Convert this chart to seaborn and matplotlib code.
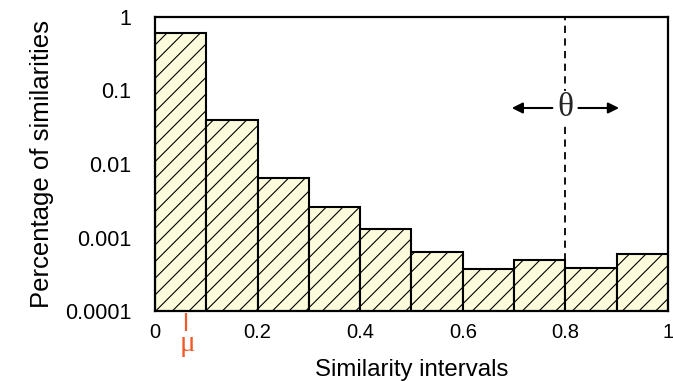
import numpy as np
import matplotlib
matplotlib.use("Agg")
import matplotlib.pyplot as plt
import matplotlib.transforms as mtransforms
import seaborn as sns

# data
bin_edges = [0.0, 0.1, 0.2, 0.3, 0.4, 0.5, 0.6, 0.7, 0.8, 0.9, 1.0]
bin_values = [0.605, 0.0397, 0.00645, 0.00262, 0.00129, 0.000641, 0.000377, 0.000494, 0.000385, 0.000602]
x_ticks = [0, 0.2, 0.4, 0.6, 0.8, 1.0]
x_tick_labels = ["0", "0.2", "0.4", "0.6", "0.8", "1"]
y_ticks = [1e-4, 1e-3, 1e-2, 1e-1, 1]
y_tick_labels = ["0.0001", "0.001", "0.01", "0.1", "1"]
mu_value = 0.06
theta_value = 0.8

sns.set_theme(style="white")
plt.rcParams['font.family'] = ['Liberation Sans', 'DejaVu Sans']
plt.rcParams['hatch.linewidth'] = 0.8

centers = [(bin_edges[i] + bin_edges[i + 1]) / 2 for i in range(len(bin_values))]

fig = plt.figure(figsize=(6.73, 3.81), dpi=100)
ax = fig.add_axes([155 / 673, 1 - 311 / 381, 513 / 673, 294 / 381])

sns.histplot(x=centers, weights=bin_values, bins=bin_edges, ax=ax,
             color="#FCFCDC", edgecolor="black", linewidth=1.5, hatch="//",
             alpha=1, stat="count")
ax.set_yscale("log")
ax.set_ylim(1e-4, 1)
ax.set_xlim(0, 1)

ax.set_xticks(x_ticks)
ax.set_xticklabels(x_tick_labels)
ax.set_yticks(y_ticks)
ax.set_yticklabels(y_tick_labels)
ax.minorticks_off()
ax.tick_params(axis="both", length=0, colors="black")
ax.tick_params(axis="x", pad=9, labelsize=14.5)
ax.tick_params(axis="y", pad=17, labelsize=15.5)

for s in ax.spines.values():
    s.set_visible(True)
    s.set_color("black")
    s.set_linewidth(1.6)

ax.set_xlabel("Similarity intervals", fontsize=17.3, color="black", labelpad=12)
ax.set_ylabel("Percentage of similarities", fontsize=18.5, color="black", labelpad=8)

# theta dashed line and arrows
ax.axvline(theta_value, color="black", linestyle=(0, (4, 3)), linewidth=1.3, zorder=5)
ytheta = 10 ** (-(108 - 17) / 73.5)
ax.text(theta_value, ytheta, "θ", ha="center", va="center", fontsize=24,
        family=["Liberation Serif", "DejaVu Serif"], zorder=7,
        bbox=dict(facecolor="white", edgecolor="none", pad=1))
ax.annotate("", xy=(0.69, ytheta), xytext=(0.78, ytheta),
            arrowprops=dict(arrowstyle="-|>", color="black", lw=1.5, mutation_scale=16))
ax.annotate("", xy=(0.91, ytheta), xytext=(0.82, ytheta),
            arrowprops=dict(arrowstyle="-|>", color="black", lw=1.5, mutation_scale=16))

# mu marker
orange = "#F05A28"
trans = mtransforms.blended_transform_factory(ax.transData, ax.transAxes)
ax.plot([mu_value, mu_value], [-0.008, -0.068], color=orange, lw=1.6,
        transform=trans, clip_on=False, solid_capstyle="butt")
ax.annotate("μ", xy=(mu_value, 1e-4), xytext=(2, -33), textcoords="offset pixels",
            ha="center", va="center", fontsize=21, color=orange,
            family=["Liberation Serif", "DejaVu Serif"], annotation_clip=False)

fig.savefig("out.png", dpi=100)
